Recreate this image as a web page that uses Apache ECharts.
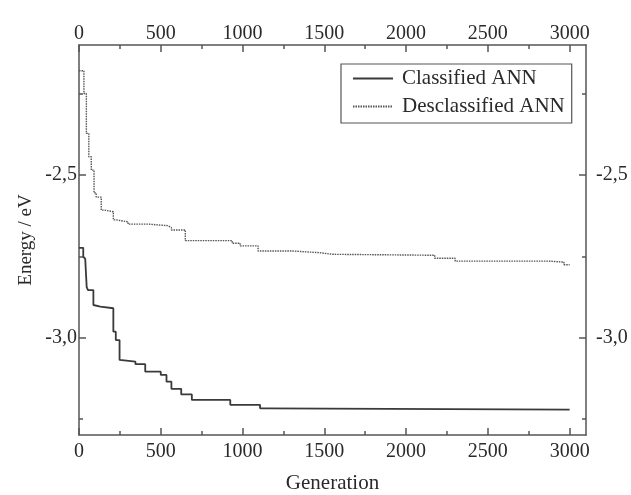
<!DOCTYPE html>
<html>
<head>
<meta charset="utf-8">
<script src="https://cdn.jsdelivr.net/npm/echarts@6/dist/echarts.min.js"></script>
<style>
html,body{margin:0;padding:0;background:#fff;}
#chart{width:631px;height:495px;}
</style>
</head>
<body>
<div id="chart"></div>
<script>
// Data (generation, energy in eV), step curves
var seriesNames = ['Classified ANN', 'Desclassified ANN'];
var classified = [
  [0, -2.724], [26, -2.751], [38, -2.758], [47, -2.845], [55, -2.854], [88, -2.900],
  [91, -2.905], [131, -2.910], [210, -2.982], [225, -3.008], [248, -3.069], [252, -3.074],
  [345, -3.082], [405, -3.105], [500, -3.115], [535, -3.136], [565, -3.158], [625, -3.175],
  [690, -3.192], [925, -3.207], [1107, -3.218], [1150, -3.222], [3000, -3.222]
];
var desclassified = [
  [0, -2.179], [30, -2.249], [45, -2.372], [60, -2.444], [75, -2.485], [92, -2.555],
  [105, -2.568], [136, -2.608], [155, -2.613], [210, -2.638], [225, -2.644], [300, -2.651],
  [420, -2.656], [545, -2.662], [565, -2.669], [650, -2.702], [937, -2.710], [985, -2.718],
  [1095, -2.734], [1310, -2.739], [1470, -2.744], [1550, -2.747], [2175, -2.756],
  [2300, -2.765], [2870, -2.768], [2965, -2.776], [3000, -2.778]
];
var xMajorTicks = [0, 500, 1000, 1500, 2000, 2500, 3000];
var xMinorTicks = [250, 750, 1250, 1750, 2250, 2750];
var yMajorTicks = [-3.0, -2.5];
var yMinorTicks = [-3.25, -2.75, -2.25];
var xRange = [0, 3100];
var yRange = [-3.3, -2.1];

var FONT = 'Liberation Serif';
var TXT = '#2a2a2a';
var LINE = '#555';

function xAxisDef(pos, major, withLabel, margin) {
  return {
    type: 'value', position: pos, min: xRange[0], max: xRange[1],
    axisLine: { show: major, onZero: false, lineStyle: { color: LINE, width: 1.5 } },
    splitLine: { show: false },
    axisTick: { show: true, inside: true, length: major ? 7 : 4,
      customValues: major ? xMajorTicks : xMinorTicks,
      lineStyle: { color: LINE, width: 1.5 } },
    axisLabel: { show: withLabel, customValues: xMajorTicks, margin: margin,
      fontFamily: FONT, fontSize: 20, color: TXT,
      formatter: function (v) { return String(v); } },
    minorTick: { show: false }
  };
}
function yAxisDef(pos, major, withLabel, margin) {
  return {
    type: 'value', position: pos, min: yRange[0], max: yRange[1],
    axisLine: { show: major, onZero: false, lineStyle: { color: LINE, width: 1.5 } },
    splitLine: { show: false },
    axisTick: { show: true, inside: true, length: major ? 7 : 4,
      customValues: major ? yMajorTicks : yMinorTicks,
      lineStyle: { color: LINE, width: 1.5 } },
    axisLabel: { show: withLabel, customValues: yMajorTicks, margin: margin,
      fontFamily: FONT, fontSize: 20, color: TXT,
      formatter: function (v) { return v.toFixed(1).replace('.', ','); } },
    minorTick: { show: false }
  };
}

var xAxes = [
  xAxisDef('bottom', true, true, 7),
  xAxisDef('top', true, true, 1),
  xAxisDef('bottom', false, false, 7),
  xAxisDef('top', false, false, 1)
];
xAxes[0].name = 'Generation';
xAxes[0].nameLocation = 'middle';
xAxes[0].nameGap = 38;
xAxes[0].nameMoveOverlap = false;
xAxes[0].nameTextStyle = { fontFamily: FONT, fontSize: 21, color: TXT };

var yAxes = [
  yAxisDef('left', true, true, 2),
  yAxisDef('right', true, true, 10),
  yAxisDef('left', false, false, 2),
  yAxisDef('right', false, false, 10)
];
yAxes[0].name = 'Energy / eV';
yAxes[0].nameLocation = 'middle';
yAxes[0].nameGap = 43;
yAxes[0].nameRotate = 90;
yAxes[0].nameMoveOverlap = false;
yAxes[0].nameTextStyle = { fontFamily: FONT, fontSize: 19, color: TXT };

var chart = echarts.init(document.getElementById('chart'), null, { renderer: 'canvas' });
chart.setOption({
  animation: false,
  backgroundColor: '#fff',
  grid: { left: 79, right: 45, top: 45, bottom: 60, containLabel: false, outerBoundsMode: 'none' },
  legend: {
    orient: 'vertical', left: 341, top: 64,
    padding: [4, 7, 6, 11],
    itemWidth: 40, itemHeight: 20, itemGap: 7,
    borderColor: LINE, borderWidth: 1.2,
    itemStyle: { opacity: 0 },
    textStyle: { fontFamily: FONT, fontSize: 21, color: TXT, padding: [0, 0, 0, 4] },
    data: seriesNames
  },
  xAxis: xAxes,
  yAxis: yAxes,
  series: [
    {
      name: seriesNames[0], type: 'line', step: 'end', symbol: 'none',
      xAxisIndex: 0, yAxisIndex: 0, data: classified,
      lineStyle: { color: '#3a3a3a', width: 1.8, type: 'solid' },
      itemStyle: { color: '#3a3a3a' }
    },
    {
      name: seriesNames[1], type: 'line', step: 'end', symbol: 'none',
      xAxisIndex: 0, yAxisIndex: 0, data: desclassified,
      lineStyle: { color: '#555', width: 1.4, type: [1.5, 1] },
      itemStyle: { color: '#555' }
    }
  ]
});
</script>
</body>
</html>
